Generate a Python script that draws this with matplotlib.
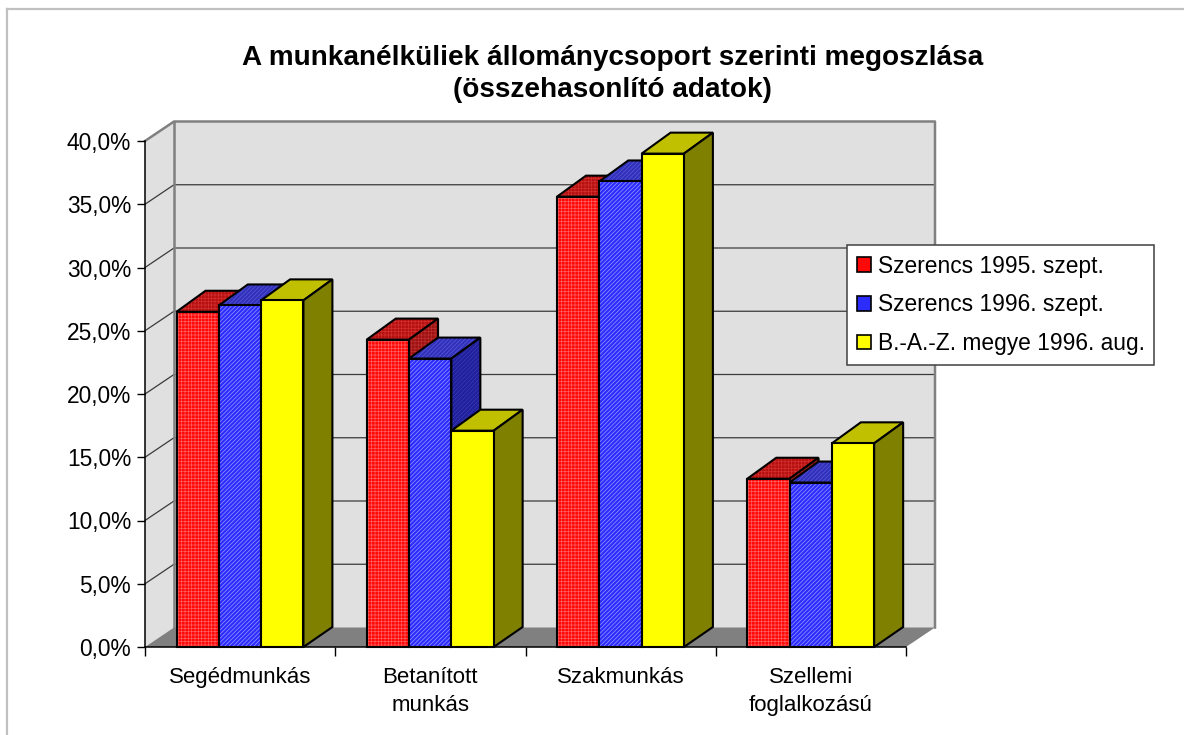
import matplotlib
matplotlib.use("Agg")
import matplotlib.pyplot as plt
from matplotlib.patches import Polygon, Patch, Rectangle
from matplotlib.lines import Line2D

plt.rcParams['font.family'] = ['Liberation Sans', 'DejaVu Sans']
plt.rcParams['hatch.linewidth'] = 0.5

title = "A munkanélküliek állománycsoport szerinti megoszlása\n(összehasonlító adatok)"
categories = ["Segédmunkás", "Betanított\nmunkás", "Szakmunkás", "Szellemi\nfoglalkozású"]
series_names = ["Szerencs 1995. szept.", "Szerencs 1996. szept.", "B.-A.-Z. megye 1996. aug."]
szerencs_1995 = [26.5, 24.3, 35.6, 13.3]
szerencs_1996 = [27.0, 22.8, 36.8, 13.0]
baz_1996 = [27.4, 17.1, 39.0, 16.1]
y_ticks = [0, 5, 10, 15, 20, 25, 30, 35, 40]
y_tick_labels = ["0,0%", "5,0%", "10,0%", "15,0%", "20,0%", "25,0%", "30,0%", "35,0%", "40,0%"]

W, H = 1184, 735
fig = plt.figure(figsize=(W / 100, H / 100), dpi=100, facecolor='white')
L, R, T, B = 145, 906, 141, 647
ax = fig.add_axes([L / W, (H - B) / H, (R - L) / W, (B - T) / H], facecolor='none')
ax.set_xlim(0, 4)
ax.set_ylim(0, 40)

# depth of the 3-D look, in data units
PX = (R - L) / 4
PY = (B - T) / 40
DX = 29 / PX
DY = 19.5 / PY
DY_BASE = 20 / PY
DY_TOP = 21 / PY
BAR_W = 42.3 / PX
GAP = 31.5 / PX

# outer border of the chart area
for xs, ys in (([7, 7], [0, H - 9]), ([7, W], [H - 9, H - 9])):
    fig.add_artist(Line2D([x / W for x in xs], [y / H for y in ys], color='#c0c0c0', lw=1.6))

# walls and floor
ax.add_patch(Polygon([(0, 0), (DX, DY), (DX, 40 + DY), (0, 40)], fc='#e0e0e0', ec='none', clip_on=False, zorder=0.5))
ax.add_patch(Rectangle((DX, DY), 4, 40, fc='#e0e0e0', ec='none', clip_on=False, zorder=0.5))
ax.add_patch(Polygon([(0, 0), (4, 0), (4 + DX, DY), (DX, DY)], fc='#808080', ec='none', clip_on=False, zorder=0.6))
for v in y_ticks[1:-1]:
    ax.plot([0, DX, 4 + DX], [v, v + DY, v + DY], color='#3a3a3a', lw=0.9, clip_on=False, zorder=0.7)
ax.plot([0, DX, 4 + DX, 4 + DX], [40, 40 + DY, 40 + DY, DY], color='#808080', lw=1.8, clip_on=False, zorder=0.8)
ax.plot([DX, DX], [DY, 40 + DY], color='#808080', lw=1.8, clip_on=False, zorder=0.8)

# bars: front, top, side, painted series by series
styles = [
    dict(front='#ff0808', hatch='+++++', hc='#ff5c5c', top='#b81010', top_h='#d03030',
         side='#a01010', side_h='#b83030'),
    dict(front='#2c2cff', hatch='////////', hc='#9a9aff', top='#3030bc', top_h='#5a5ad4',
         side='#20209c', side_h='#3a3ab4'),
    dict(front='#ffff00', hatch=None, hc='#000000', top='#c0c000', top_h='#c0c000',
         side='#808000', side_h='#808000'),
]
EDGE = dict(ec='black', lw=1.5, joinstyle='miter')
series = [szerencs_1995, szerencs_1996, baz_1996]


def face(points, fc, hc, hatch, z):
    ax.add_patch(Polygon(points, fc=fc, ec=hc, hatch=hatch, lw=0, clip_on=False, zorder=z))
    ax.add_patch(Polygon(points, fc='none', clip_on=False, zorder=z + 0.001, **EDGE))


for c in range(4):
    for s, vals in enumerate(series):
        st = styles[s]
        x0 = c + GAP + s * BAR_W
        x1 = x0 + BAR_W
        v = vals[c]
        z = 3 + c + s * 0.1
        face([(x0, v), (x1, v), (x1 + DX, v + DY_TOP), (x0 + DX, v + DY_TOP)],
             st['top'], st['top_h'], st['hatch'], z)
        face([(x1, 0), (x1 + DX, DY_BASE), (x1 + DX, v + DY_TOP), (x1, v)],
             st['side'], st['side_h'], st['hatch'], z + 0.005)
        ax.bar(x0, v, width=BAR_W, align='edge', color=st['front'],
               edgecolor=st['hc'], hatch=st['hatch'], lw=0, clip_on=False, zorder=z + 0.01)
        ax.add_patch(Rectangle((x0, 0), BAR_W, v, fc='none', clip_on=False, zorder=z + 0.02, **EDGE))

# axes
for side in ('top', 'right'):
    ax.spines[side].set_visible(False)
for side in ('left', 'bottom'):
    ax.spines[side].set_linewidth(1.1)
ax.set_yticks(y_ticks)
ax.set_yticklabels(y_tick_labels, fontsize=16.4, color='black')
ax.tick_params(axis='y', length=6, width=1.0, pad=4)
ax.set_xticks([0, 1, 2, 3, 4])
ax.set_xticklabels([])
ax.tick_params(axis='x', length=6.5, width=1.0)
ax.set_xticks([0.5, 1.5, 2.5, 3.5], minor=True)
ax.set_xticklabels(categories, minor=True, fontsize=16.05, linespacing=1.4, va='top')
ax.tick_params(axis='x', which='minor', length=0, pad=14.5)

fig.text(612.5 / W, 1 - 74 / H, title, ha='center', va='center', fontsize=20.1,
         fontweight='bold', linespacing=1.33)

# legend
handles = [Patch(fc=st['front'], ec='black', lw=1.2, label=n)
           for st, n in zip(styles, series_names)]
leg = fig.legend(handles=handles, loc='upper left', bbox_to_anchor=(847 / W, 1 - 245 / H),
                 fontsize=16.4, frameon=True, fancybox=False, edgecolor='#404040', facecolor='white',
                 framealpha=1, handlelength=0.62, handleheight=0.62, handletextpad=0.3,
                 labelspacing=0.69, borderpad=0.42, borderaxespad=0, ncol=1)
leg.get_frame().set_linewidth(1.1)
leg.set_zorder(20)

fig.savefig("out.png", dpi=100)
